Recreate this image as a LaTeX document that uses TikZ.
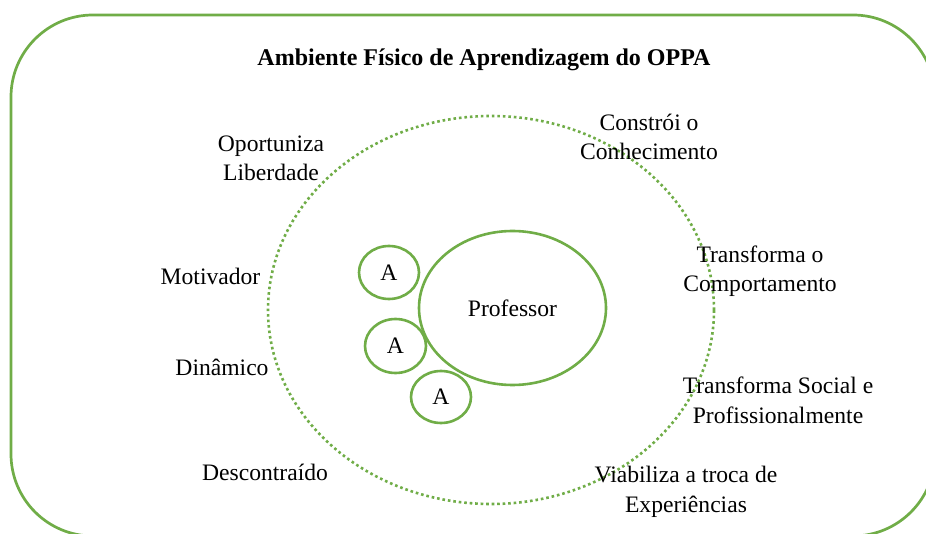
\documentclass[tikz,border=0pt]{standalone}
\usepackage{fontspec}
\setmainfont{Liberation Serif}
\usetikzlibrary{shapes.geometric}
\definecolor{oppagreen}{RGB}{112,173,71}
\tikzset{
  lbl/.style={font=\fontsize{23.6}{29.5}\selectfont, inner sep=0pt, align=center, anchor=base},
  bubble/.style={ellipse, draw=oppagreen, line width=2.6pt, inner sep=0pt, font=\fontsize{23.6}{29}\selectfont},
  dotring/.style={ellipse, draw=oppagreen, line width=2.6pt, dash pattern=on 2.6pt off 2.9pt, inner sep=0pt},
}
\begin{document}
\begin{tikzpicture}[x=1pt,y=-1pt]
\useasboundingbox (0,0) rectangle (926,534);
\clip (0,0) rectangle (926,534);
\fill[white] (0,0) rectangle (926,534);
\draw[oppagreen, line width=2.7pt, rounded corners=82pt] (11,15) rectangle (935,536);
\node[lbl, font=\bfseries\fontsize{24}{29}\selectfont] (title) at (484,66) {Ambiente Físico de Aprendizagem do OPPA};
\node[dotring, minimum width=446pt, minimum height=388pt] (ring) at (491,310) {};
\node[bubble, minimum width=187pt, minimum height=154pt] (prof) at (512.5,308) {Professor};
\node[bubble, minimum width=60pt, minimum height=53pt] (a1) at (389,272.5) {A};
\node[bubble, minimum width=61pt, minimum height=54pt] (a2) at (395.5,346) {A};
\node[bubble, minimum width=60pt, minimum height=52pt] (a3) at (441,397) {A};
\node[lbl] (oport) at (271,181) {Oportuniza\\Liberdade};
\node[lbl] (constr) at (649,160) {Constrói o\\Conhecimento};
\node[lbl] (motiv) at (210.5,285) {Motivador};
\node[lbl] (dinam) at (222,376) {Dinâmico};
\node[lbl] (descon) at (265,480) {Descontraído};
\node[lbl] (tcomp) at (760,292) {Transforma o\\Comportamento};
\node[lbl] (tsoc) at (778,423) {Transforma Social e\\Profissionalmente};
\node[lbl] (viab) at (686,512) {Viabiliza a troca de\\Experiências};
\end{tikzpicture}
\end{document}
